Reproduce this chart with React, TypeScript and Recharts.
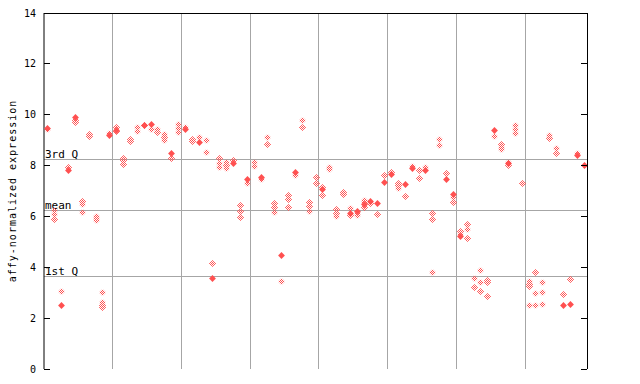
import { ScatterChart, Scatter, XAxis, YAxis, ReferenceLine } from "recharts";

// replicate values per sample (hollow diamonds), samples 1..79
const replicateValues: number[][] = [
  [9.42], [6.25, 6.1, 5.9], [3.07], [7.95], [9.8, 9.72],
  [6.62, 6.47, 6.18], [9.25, 9.18], [6.03, 5.94, 5.85], [3.01, 2.65, 2.52, 2.42], [9.27],
  [9.53, 9.36], [8.31, 8.2, 8.08], [9.06, 8.96], [9.53, 9.37], [9.58],
  [9.45], [9.42, 9.32], [9.23, 9.12, 8.99], [8.28], [9.62, 9.49, 9.33],
  [9.53], [9.04, 8.97], [9.13], [8.99, 8.54], [4.17],
  [8.28, 8.1, 7.94], [8.15, 8.02, 7.89], [8.2], [6.43, 6.2, 5.98], [7.33],
  [8.15, 7.97], [7.46], [9.14, 8.86], [6.53, 6.36, 6.18], [3.47],
  [6.83, 6.7, 6.38], [7.62], [9.81, 9.52], [6.57, 6.4, 6.2], [7.57, 7.33],
  [7.15, 6.83], [7.95, 7.88], [6.28, 6.14, 6.01], [6.97, 6.89], [6.34, 6.05],
  [6.14, 6.07], [6.66, 6.57, 6.38], [6.52], [6.11], [7.61],
  [7.75], [7.31, 7.22, 7.13], [6.81], [8.0], [7.83, 7.52],
  [7.95], [6.14, 5.9, 3.81], [9.03, 8.81], [7.71], [6.78, 6.57],
  [5.41, 5.31], [5.7, 5.51, 5.15], [3.58, 3.22], [3.89, 3.42, 3.06], [3.51, 3.42, 2.87],
  [9.17], [8.83, 8.73, 8.64], [8.16, 8.03], [9.6, 9.45, 9.29], [7.32],
  [3.47, 3.35, 3.25, 2.51], [3.81, 2.99, 2.51], [3.42, 3.02, 2.55], [9.2, 9.09], [8.7, 8.51],
  [2.95], [3.55], [8.5], [],
];

// highlighted value per sample (filled diamonds)
const highlightValues: (number | null)[] = [
  9.46, null, 2.51, 7.82, 9.9, null, null, null, null, 9.2,
  9.41, null, null, null, 9.6, 9.65, null, null, 8.49, null,
  9.44, null, 8.92, null, 3.56, null, null, 8.1, null, 7.49,
  null, 7.57, null, null, 4.5, null, 7.73, null, null, null,
  7.08, null, null, null, 6.14, 6.23, 6.47, 6.62, 6.51, 7.35,
  7.68, null, 7.26, 7.91, null, 7.82, null, null, 7.46, 6.89,
  5.22, null, null, null, null, 9.4, null, 8.1, null, null,
  null, null, null, null, null, 2.5, 2.56, 8.41, 8.03,
];

const yTicks = [0, 2, 4, 6, 8, 10, 12, 14];
const groupBreaks = [10.5, 20.5, 30.5, 40.5, 50.5, 60.5, 70.5];
const statLabels = ["3rd Q", "mean", "1st Q"];
const statValues = [8.23, 6.23, 3.63];

const RED = "#ff5050";
const GRID = "#a6a6a6";
const MONO = "'DejaVu Sans Mono', monospace";

const hollowData = replicateValues.flatMap((vals, i) => vals.map((v) => ({ x: i + 1, y: v })));
const solidData = highlightValues
  .map((v, i) => ({ x: i + 1, y: v }))
  .filter((d) => d.y !== null);

const diamond = (cx: number, cy: number, r: number) =>
  `M${cx},${cy - r}L${cx + r},${cy}L${cx},${cy + r}L${cx - r},${cy}Z`;

const HollowShape = (p: any) => <path d={diamond(Math.round(p.cx) + 0.5, Math.round(p.cy) + 0.5, 3.6)} fill="url(#chk)" />;
const SolidShape = (p: any) => <path d={diamond(Math.round(p.cx) + 0.5, Math.round(p.cy) + 0.5, 3.4)} fill={RED} />;
const NoShape = () => <g />;

const LeftTick = ({ x, y, payload }: any) => (
  <g>
    <line x1={x + 8} x2={x + 14} y1={y} y2={y} stroke="#000" shapeRendering="crispEdges" />
    <text x={x} y={y} textAnchor="end" dominantBaseline="central" fontSize={10} fontFamily={MONO} fill="#000">
      {payload.value}
    </text>
  </g>
);

const RightTick = ({ x, y }: any) => (
  <line x1={x - 6} x2={x} y1={y} y2={y} stroke="#000" shapeRendering="crispEdges" />
);

export default function App() {
  return (
    <div style={{ position: "absolute", left: 0, top: 0, width: 640, height: 384, background: "#fff" }}>
      <ScatterChart width={640} height={384} margin={{ top: 13, right: 52, bottom: 15, left: 0 }}>
        <defs>
          <pattern id="chk" width={2} height={2} patternUnits="userSpaceOnUse">
            <rect x={0} y={0} width={1} height={1} fill={RED} />
            <rect x={1} y={1} width={1} height={1} fill={RED} />
          </pattern>
        </defs>
        <XAxis
          type="number"
          dataKey="x"
          domain={[0.5, 79.5]}
          allowDataOverflow
          height={0}
          tick={false}
          tickLine={false}
          axisLine={{ stroke: "#000" }}
        />
        <YAxis
          yAxisId="left"
          type="number"
          dataKey="y"
          domain={[0, 14]}
          ticks={yTicks}
          width={44}
          tickSize={0}
          tickMargin={8}
          tickLine={false}
          axisLine={{ stroke: "#000" }}
          tick={<LeftTick />}
          label={({ viewBox }: any) => (
            <text
              x={viewBox.x + 12}
              y={viewBox.y + viewBox.height / 2}
              transform={`rotate(-90 ${viewBox.x + 12} ${viewBox.y + viewBox.height / 2})`}
              textAnchor="middle"
              dominantBaseline="central"
              fontSize={10}
              letterSpacing={1}
              fontFamily={MONO}
              fill="#000"
            >
              affy-normalized expression
            </text>
          )}
        />
        <YAxis
          yAxisId="right"
          orientation="right"
          type="number"
          dataKey="y"
          domain={[0, 14]}
          ticks={yTicks}
          width={1}
          tickSize={0}
          tickMargin={0}
          tickLine={false}
          axisLine={false}
          tick={<RightTick />}
        />
        {groupBreaks.map((b) => (
          <ReferenceLine key={b} yAxisId="left" x={b} stroke={GRID} strokeWidth={1} shapeRendering="crispEdges" />
        ))}
        {statValues.map((v, i) => (
          <ReferenceLine
            key={statLabels[i]}
            yAxisId="left"
            y={v}
            stroke={GRID}
            strokeWidth={1}
            shapeRendering="crispEdges"
            label={({ viewBox }: any) => (
              <text x={viewBox.x + 1} y={viewBox.y - 2} fontSize={11} fontFamily={MONO} fill="#000">
                {statLabels[i]}
              </text>
            )}
          />
        ))}
        <ReferenceLine yAxisId="left" y={14} stroke="#000" shapeRendering="crispEdges" />
        <ReferenceLine yAxisId="left" x={79.5} stroke="#000" shapeRendering="crispEdges" />
        <Scatter yAxisId="right" data={solidData} shape={NoShape} isAnimationActive={false} />
        <Scatter yAxisId="left" data={hollowData} shape={HollowShape} isAnimationActive={false} />
        <Scatter yAxisId="left" data={solidData} shape={SolidShape} isAnimationActive={false} />
      </ScatterChart>
    </div>
  );
}
